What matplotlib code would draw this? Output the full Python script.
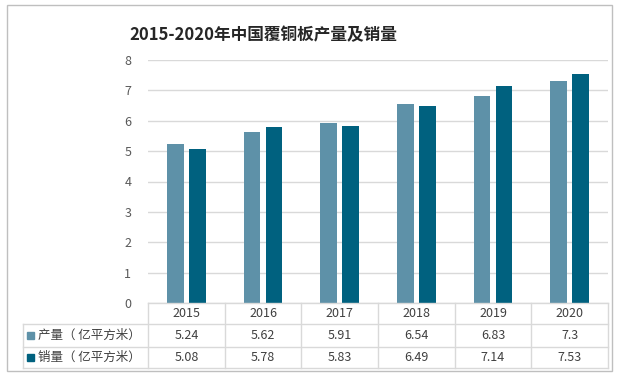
import matplotlib.pyplot as plt
from matplotlib.lines import Line2D
from matplotlib.patches import Rectangle

plt.rcParams['font.family'] = ['Noto Sans CJK SC', 'DejaVu Sans']

years = ['2015', '2016', '2017', '2018', '2019', '2020']
production = [5.24, 5.62, 5.91, 6.54, 6.83, 7.3]
sales = [5.08, 5.78, 5.83, 6.49, 7.14, 7.53]
series_names = ['产量（ 亿平方米）', '销量（ 亿平方米）']
colors = ['#5e91a8', '#00617f']

W, H = 617, 375
fig = plt.figure(figsize=(W / 100, H / 100), dpi=100)

def fx(px):
    return px / W

def fy(py):
    return 1 - py / H

# plot area in pixels
x0, x1, ytop, ybot = 148, 608, 60, 303
ax = fig.add_axes([fx(x0), fy(ybot), fx(x1) - fx(x0), fy(ytop) - fy(ybot)])

idx = list(range(len(years)))
w = 0.22
ax.bar([i - 0.143 for i in idx], production, width=w, color=colors[0], zorder=3)
ax.bar([i + 0.143 for i in idx], sales, width=w, color=colors[1], zorder=3)
ax.set_xlim(-0.5, len(years) - 0.5)
ax.set_ylim(0, 8)
ax.set_yticks(range(0, 9))
ax.grid(axis='y', color='#d9d9d9', linewidth=1, zorder=0)
ax.set_xticks([])
for s in ax.spines.values():
    s.set_visible(False)
ax.tick_params(axis='y', length=0, pad=12, labelsize=9, labelcolor='#595959')

fig.text(fx(263), fy(35), '2015-2020年中国覆铜板产量及销量', ha='center', va='center',
         fontsize=12, fontweight='bold', color='#262626')

# data table
grid_c = '#d9d9d9'
col_w = (x1 - x0) / len(years)
row_y = [303, 324, 347, 368]
label_x0 = 23

def hline(y, xa, xb):
    fig.add_artist(Line2D([fx(xa), fx(xb)], [fy(y), fy(y)], color=grid_c, lw=1))

def vline(x, ya, yb):
    fig.add_artist(Line2D([fx(x), fx(x)], [fy(ya), fy(yb)], color=grid_c, lw=1))

hline(row_y[0], x0, x1)
for y in row_y[1:]:
    hline(y, label_x0, x1)
vline(label_x0, row_y[1], row_y[3])
for i in range(len(years) + 1):
    vline(x0 + i * col_w, row_y[0], row_y[3])

tc = '#404040'
for i, yr in enumerate(years):
    cx = x0 + (i + 0.5) * col_w
    fig.text(fx(cx), fy((row_y[0] + row_y[1]) / 2), yr, ha='center', va='center', fontsize=9, color=tc)
    fig.text(fx(cx), fy((row_y[1] + row_y[2]) / 2), f'{production[i]:g}', ha='center', va='center', fontsize=9, color=tc)
    fig.text(fx(cx), fy((row_y[2] + row_y[3]) / 2), f'{sales[i]:g}', ha='center', va='center', fontsize=9, color=tc)

for r, (name, c) in enumerate(zip(series_names, colors)):
    cy = (row_y[r + 1] + row_y[r + 2]) / 2
    fig.add_artist(Rectangle((fx(27), fy(cy + 3.5)), fx(7), 7 / H, color=c))
    fig.text(fx(38), fy(cy), name, ha='left', va='center', fontsize=9, color=tc)

# outer border
fig.add_artist(Rectangle((fx(6.5), fy(370.5)), fx(605), 366 / H, fill=False, edgecolor='#bfbfbf', lw=1))

fig.savefig('out.png', dpi=100)
